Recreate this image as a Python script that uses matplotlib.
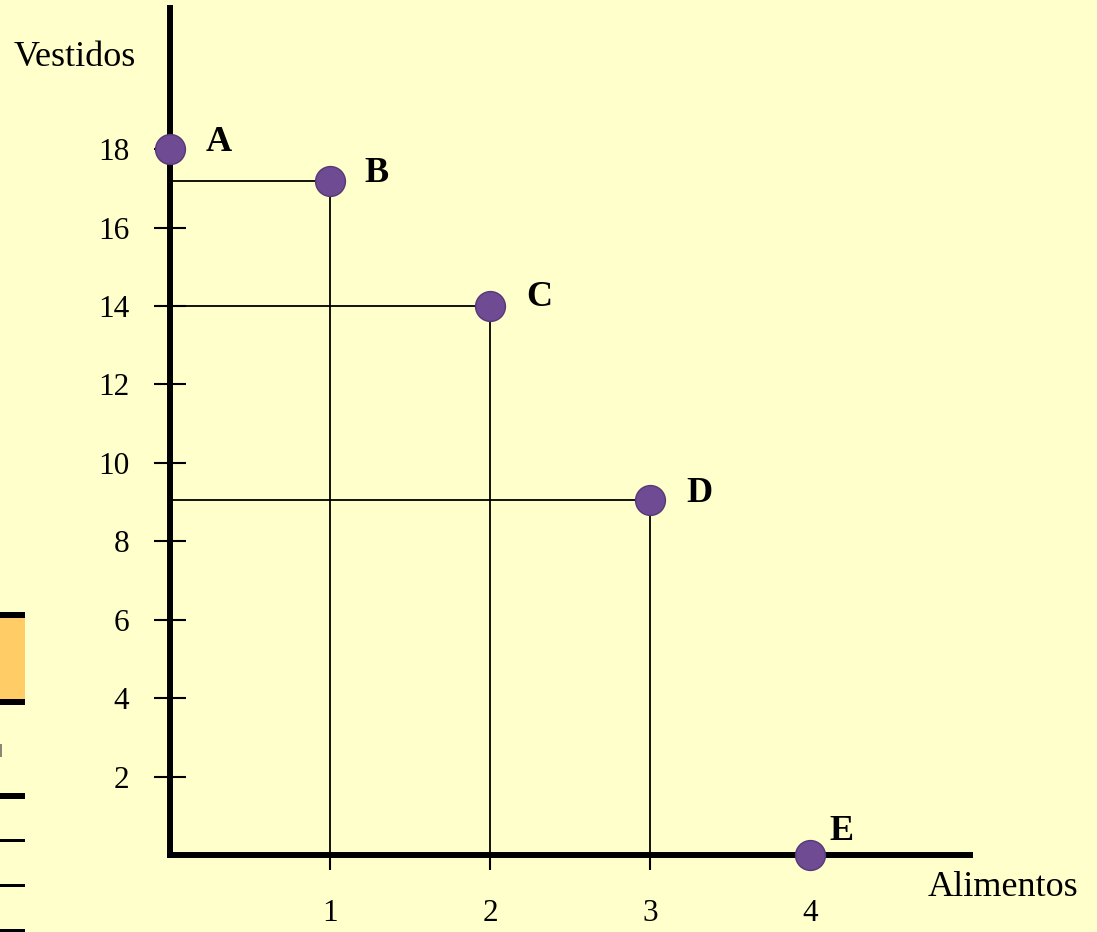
import matplotlib
matplotlib.use("Agg")
import matplotlib.pyplot as plt
from matplotlib.patches import Rectangle

plt.rcParams['font.family'] = ['Liberation Serif', 'DejaVu Serif']

# datos de la frontera (alimentos, vestidos)
puntos = ['A', 'B', 'C', 'D', 'E']
alimentos = [0, 1, 2, 3, 4]
vestidos = [18, 17.2, 14, 9.05, 0]
xticks = [1, 2, 3, 4]
yticks = [2, 4, 6, 8, 10, 12, 14, 16, 18]

fondo = '#ffffcc'
morado = '#6e4b92'

fig = plt.figure(figsize=(10.97, 9.32), dpi=100, facecolor=fondo)
ax = fig.add_axes([170 / 1097, 77 / 932, 800 / 1097, 847 / 932])
ax.set_facecolor(fondo)
ax.set_xlim(0, 5)
ax.set_ylim(0, 21.6)

for s in ['top', 'right']:
    ax.spines[s].set_visible(False)
for s in ['left', 'bottom']:
    ax.spines[s].set_linewidth(4.3)
    ax.spines[s].set_capstyle('projecting')

# lineas de referencia
for x, y in zip(alimentos[1:4], vestidos[1:4]):
    ax.plot([0, x], [y, y], color='black', lw=1.3, zorder=2)
    ax.plot([x, x], [0, y], color='black', lw=1.3, zorder=2)

ax.plot(alimentos, vestidos, 'o', ms=21.5, color=morado, mec='#563878', mew=1,
        zorder=5, clip_on=False)

offs = [(26, 5), (25, 5), (26, 6), (26, 5), (14, 17)]
for p, x, y, o in zip(puntos, alimentos, vestidos, offs):
    ax.annotate(p, (x, y), xytext=o, textcoords='offset points',
                fontsize=26, fontweight='bold', va='center', ha='left')

ax.set_xticks(xticks)
ax.set_xticklabels([str(v) for v in xticks])
ax.set_yticks(yticks)
ax.set_yticklabels([str(v) for v in yticks])
ax.tick_params(axis='x', direction='out', length=11, width=1.5, pad=21, labelsize=22.5)
ax.tick_params(axis='y', direction='inout', length=23, width=1.5, pad=18, labelsize=22.5)

fig.text(75 / 1097, 1 - 57 / 932, 'Vestidos', fontsize=26, ha='center', va='center')
fig.text(1003 / 1097, 1 - 888 / 932, 'Alimentos', fontsize=26, ha='center', va='center')

# restos de la diapositiva a la izquierda
def caja(x0, y0, w, h, c):
    fig.patches.append(Rectangle((x0 / 1097, 1 - (y0 + h) / 932), w / 1097, h / 932,
                                 transform=fig.transFigure, color=c, lw=0))

caja(0, 612, 25, 93, '#ffcc66')
caja(0, 612, 25, 6, 'black')
caja(0, 699, 25, 6, 'black')
caja(0, 744, 2, 13, '#888877')
caja(0, 793, 25, 6, 'black')
caja(0, 839, 25, 3, 'black')
caja(0, 884, 25, 3, 'black')
caja(0, 929, 25, 3, 'black')

fig.savefig('out.png', dpi=100, facecolor=fondo)
